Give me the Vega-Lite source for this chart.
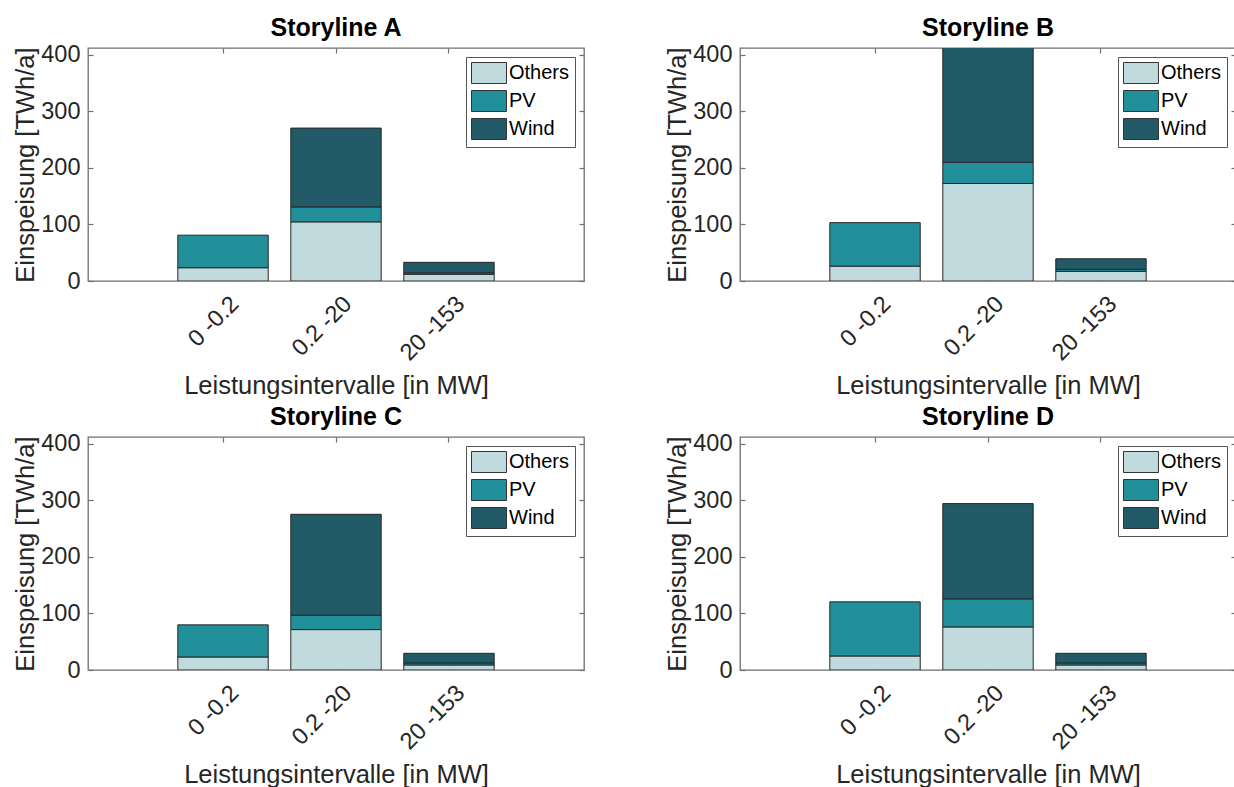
{
  "$schema": "https://vega.github.io/schema/vega-lite/v6.json",
  "background": "white",
  "padding": {"left": 12, "top": 15, "right": 0, "bottom": 0},
  "datasets": {
    "d": [
      {"s": "A", "c": "0 -0.2", "t": "Others", "v": 23.5},
      {"s": "A", "c": "0 -0.2", "t": "PV", "v": 57.5},
      {"s": "A", "c": "0.2 -20", "t": "Others", "v": 104.6},
      {"s": "A", "c": "0.2 -20", "t": "PV", "v": 26.4},
      {"s": "A", "c": "0.2 -20", "t": "Wind", "v": 139.4},
      {"s": "A", "c": "20 -153", "t": "Others", "v": 12},
      {"s": "A", "c": "20 -153", "t": "PV", "v": 2.5},
      {"s": "A", "c": "20 -153", "t": "Wind", "v": 18.5},
      {"s": "B", "c": "0 -0.2", "t": "Others", "v": 26.4},
      {"s": "B", "c": "0 -0.2", "t": "PV", "v": 76.8},
      {"s": "B", "c": "0.2 -20", "t": "Others", "v": 172.4},
      {"s": "B", "c": "0.2 -20", "t": "PV", "v": 37.6},
      {"s": "B", "c": "0.2 -20", "t": "Wind", "v": 215},
      {"s": "B", "c": "20 -153", "t": "Others", "v": 17},
      {"s": "B", "c": "20 -153", "t": "PV", "v": 3.5},
      {"s": "B", "c": "20 -153", "t": "Wind", "v": 18.8},
      {"s": "C", "c": "0 -0.2", "t": "Others", "v": 23},
      {"s": "C", "c": "0 -0.2", "t": "PV", "v": 56.8},
      {"s": "C", "c": "0.2 -20", "t": "Others", "v": 71.5},
      {"s": "C", "c": "0.2 -20", "t": "PV", "v": 25.4},
      {"s": "C", "c": "0.2 -20", "t": "Wind", "v": 178.4},
      {"s": "C", "c": "20 -153", "t": "Others", "v": 8.9},
      {"s": "C", "c": "20 -153", "t": "PV", "v": 3.5},
      {"s": "C", "c": "20 -153", "t": "Wind", "v": 17.1},
      {"s": "D", "c": "0 -0.2", "t": "Others", "v": 24.8},
      {"s": "D", "c": "0 -0.2", "t": "PV", "v": 95.7},
      {"s": "D", "c": "0.2 -20", "t": "Others", "v": 76.2},
      {"s": "D", "c": "0.2 -20", "t": "PV", "v": 49.6},
      {"s": "D", "c": "0.2 -20", "t": "Wind", "v": 168.4},
      {"s": "D", "c": "20 -153", "t": "Others", "v": 8.9},
      {"s": "D", "c": "20 -153", "t": "PV", "v": 3.5},
      {"s": "D", "c": "20 -153", "t": "Wind", "v": 17.1}
    ]
  },
  "data": {"name": "d"},
  "columns": 2,
  "spacing": {"row": 156, "column": 156},
  "bounds": "flush",
  "resolve": {"legend": {"color": "independent"}},
  "concat": [
    {
      "title": "Storyline A",
      "width": 496, "height": 233,
      "transform": [{"filter": "datum.s === 'A'"}],
      "resolve": {"axis": {"x": "independent", "y": "independent"}},
      "layer": [
        {
          "mark": {"type": "bar", "stroke": "#262626", "strokeWidth": 1, "clip": true},
          "encoding": {
            "x": {"field": "c", "type": "nominal", "sort": ["0 -0.2", "0.2 -20", "20 -153"], "scale": {"paddingInner": 0.2, "paddingOuter": 0.795},
                  "axis": {"orient": "bottom", "title": "Leistungsintervalle [in MW]", "labelAngle": -45, "labelAlign": "right", "labelBaseline": "middle", "tickSize": -5, "labelPadding": 24, "labelOffset": 12, "titleY": 112, "titleBaseline": "alphabetic"}},
            "y": {"field": "v", "type": "quantitative", "scale": {"domain": [0, 412], "nice": false},
                  "axis": {"orient": "left", "values": [0, 100, 200, 300, 400], "title": "Einspeisung [TWh/a]", "tickSize": -5, "labelPadding": 13, "titleX": -55, "titleBaseline": "alphabetic"}},
            "color": {"field": "t", "type": "nominal", "scale": {"domain": ["Others", "PV", "Wind"], "range": ["#C1DADE", "#21909B", "#235A68"]},
                      "legend": {"title": null, "orient": "top-right", "offset": 9}},
            "order": {"field": "t", "sort": "ascending"}
          }
        },
        {
          "mark": {"type": "bar", "opacity": 0, "clip": true},
          "encoding": {
            "x": {"field": "c", "type": "nominal", "sort": ["0 -0.2", "0.2 -20", "20 -153"], "scale": {"paddingInner": 0.2, "paddingOuter": 0.795},
                  "axis": {"orient": "top", "labels": false, "title": null, "tickSize": -5}},
            "y": {"field": "v", "type": "quantitative", "scale": {"domain": [0, 412], "nice": false},
                  "axis": {"orient": "right", "values": [0, 100, 200, 300, 400], "labels": false, "title": null, "tickSize": -5}}
          }
        }
      ]
    },
    {
      "title": "Storyline B",
      "width": 496, "height": 233,
      "transform": [{"filter": "datum.s === 'B'"}],
      "resolve": {"axis": {"x": "independent", "y": "independent"}},
      "layer": [
        {
          "mark": {"type": "bar", "stroke": "#262626", "strokeWidth": 1, "clip": true},
          "encoding": {
            "x": {"field": "c", "type": "nominal", "sort": ["0 -0.2", "0.2 -20", "20 -153"], "scale": {"paddingInner": 0.2, "paddingOuter": 0.795},
                  "axis": {"orient": "bottom", "title": "Leistungsintervalle [in MW]", "labelAngle": -45, "labelAlign": "right", "labelBaseline": "middle", "tickSize": -5, "labelPadding": 24, "labelOffset": 12, "titleY": 112, "titleBaseline": "alphabetic"}},
            "y": {"field": "v", "type": "quantitative", "scale": {"domain": [0, 412], "nice": false},
                  "axis": {"orient": "left", "values": [0, 100, 200, 300, 400], "title": "Einspeisung [TWh/a]", "tickSize": -5, "labelPadding": 13, "titleX": -55, "titleBaseline": "alphabetic"}},
            "color": {"field": "t", "type": "nominal", "scale": {"domain": ["Others", "PV", "Wind"], "range": ["#C1DADE", "#21909B", "#235A68"]},
                      "legend": {"title": null, "orient": "top-right", "offset": 9}},
            "order": {"field": "t", "sort": "ascending"}
          }
        },
        {
          "mark": {"type": "bar", "opacity": 0, "clip": true},
          "encoding": {
            "x": {"field": "c", "type": "nominal", "sort": ["0 -0.2", "0.2 -20", "20 -153"], "scale": {"paddingInner": 0.2, "paddingOuter": 0.795},
                  "axis": {"orient": "top", "labels": false, "title": null, "tickSize": -5}},
            "y": {"field": "v", "type": "quantitative", "scale": {"domain": [0, 412], "nice": false},
                  "axis": {"orient": "right", "values": [0, 100, 200, 300, 400], "labels": false, "title": null, "tickSize": -5}}
          }
        }
      ]
    },
    {
      "title": "Storyline C",
      "width": 496, "height": 233,
      "transform": [{"filter": "datum.s === 'C'"}],
      "resolve": {"axis": {"x": "independent", "y": "independent"}},
      "layer": [
        {
          "mark": {"type": "bar", "stroke": "#262626", "strokeWidth": 1, "clip": true},
          "encoding": {
            "x": {"field": "c", "type": "nominal", "sort": ["0 -0.2", "0.2 -20", "20 -153"], "scale": {"paddingInner": 0.2, "paddingOuter": 0.795},
                  "axis": {"orient": "bottom", "title": "Leistungsintervalle [in MW]", "labelAngle": -45, "labelAlign": "right", "labelBaseline": "middle", "tickSize": -5, "labelPadding": 24, "labelOffset": 12, "titleY": 112, "titleBaseline": "alphabetic"}},
            "y": {"field": "v", "type": "quantitative", "scale": {"domain": [0, 412], "nice": false},
                  "axis": {"orient": "left", "values": [0, 100, 200, 300, 400], "title": "Einspeisung [TWh/a]", "tickSize": -5, "labelPadding": 13, "titleX": -55, "titleBaseline": "alphabetic"}},
            "color": {"field": "t", "type": "nominal", "scale": {"domain": ["Others", "PV", "Wind"], "range": ["#C1DADE", "#21909B", "#235A68"]},
                      "legend": {"title": null, "orient": "top-right", "offset": 9}},
            "order": {"field": "t", "sort": "ascending"}
          }
        },
        {
          "mark": {"type": "bar", "opacity": 0, "clip": true},
          "encoding": {
            "x": {"field": "c", "type": "nominal", "sort": ["0 -0.2", "0.2 -20", "20 -153"], "scale": {"paddingInner": 0.2, "paddingOuter": 0.795},
                  "axis": {"orient": "top", "labels": false, "title": null, "tickSize": -5}},
            "y": {"field": "v", "type": "quantitative", "scale": {"domain": [0, 412], "nice": false},
                  "axis": {"orient": "right", "values": [0, 100, 200, 300, 400], "labels": false, "title": null, "tickSize": -5}}
          }
        }
      ]
    },
    {
      "title": "Storyline D",
      "width": 496, "height": 233,
      "transform": [{"filter": "datum.s === 'D'"}],
      "resolve": {"axis": {"x": "independent", "y": "independent"}},
      "layer": [
        {
          "mark": {"type": "bar", "stroke": "#262626", "strokeWidth": 1, "clip": true},
          "encoding": {
            "x": {"field": "c", "type": "nominal", "sort": ["0 -0.2", "0.2 -20", "20 -153"], "scale": {"paddingInner": 0.2, "paddingOuter": 0.795},
                  "axis": {"orient": "bottom", "title": "Leistungsintervalle [in MW]", "labelAngle": -45, "labelAlign": "right", "labelBaseline": "middle", "tickSize": -5, "labelPadding": 24, "labelOffset": 12, "titleY": 112, "titleBaseline": "alphabetic"}},
            "y": {"field": "v", "type": "quantitative", "scale": {"domain": [0, 412], "nice": false},
                  "axis": {"orient": "left", "values": [0, 100, 200, 300, 400], "title": "Einspeisung [TWh/a]", "tickSize": -5, "labelPadding": 13, "titleX": -55, "titleBaseline": "alphabetic"}},
            "color": {"field": "t", "type": "nominal", "scale": {"domain": ["Others", "PV", "Wind"], "range": ["#C1DADE", "#21909B", "#235A68"]},
                      "legend": {"title": null, "orient": "top-right", "offset": 9}},
            "order": {"field": "t", "sort": "ascending"}
          }
        },
        {
          "mark": {"type": "bar", "opacity": 0, "clip": true},
          "encoding": {
            "x": {"field": "c", "type": "nominal", "sort": ["0 -0.2", "0.2 -20", "20 -153"], "scale": {"paddingInner": 0.2, "paddingOuter": 0.795},
                  "axis": {"orient": "top", "labels": false, "title": null, "tickSize": -5}},
            "y": {"field": "v", "type": "quantitative", "scale": {"domain": [0, 412], "nice": false},
                  "axis": {"orient": "right", "values": [0, 100, 200, 300, 400], "labels": false, "title": null, "tickSize": -5}}
          }
        }
      ]
    }
  ],
  "config": {
    "font": "Liberation Sans",
    "view": {"stroke": "#6e6e6e", "strokeWidth": 1.3},
    "axis": {"labelFont": "Liberation Sans", "titleFont": "Liberation Sans", "labelFontSize": 23.5, "titleFontSize": 25.5, "labelColor": "#262626", "titleColor": "#262626", "titleFontWeight": "normal", "tickColor": "#6e6e6e", "tickWidth": 1.2, "domain": false, "grid": false},
    "title": {"fontSize": 25, "fontWeight": "bold", "color": "#000000", "anchor": "middle", "frame": "group", "offset": 2, "font": "Liberation Sans"},
    "legend": {"labelFont": "Liberation Sans", "labelFontSize": 20, "labelColor": "#000000", "strokeColor": "#555555", "fillColor": "#ffffff", "padding": 5, "symbolType": "M-1,-1L2.333,-1L2.333,1L-1,1Z", "symbolSize": 441, "symbolStrokeColor": "#333333", "symbolStrokeWidth": 1, "symbolOpacity": 1, "labelOffset": 16, "rowPadding": 2}
  }
}
